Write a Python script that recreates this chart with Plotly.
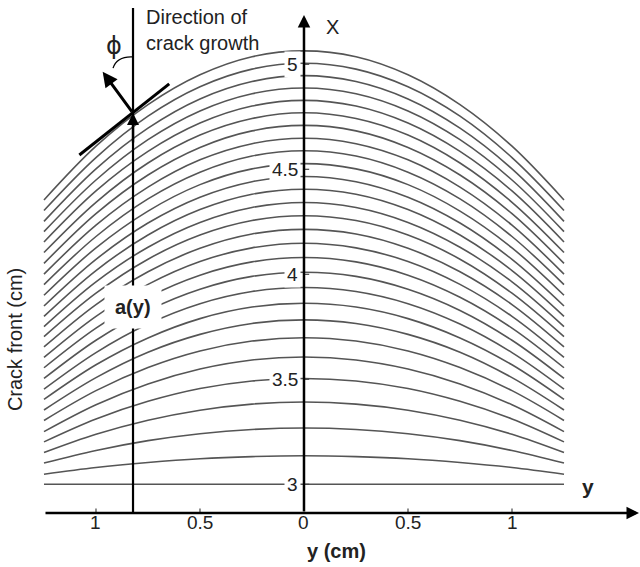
import plotly.graph_objects as go

# ---------------- data ----------------
# crack-front position X (cm) of each front, at |y| = 0, 0.25, 0.5, 0.75, 1.0, 1.25 cm
Y_POS = [0.0, 0.25, 0.5, 0.75, 1.0, 1.25]
front_y000 = [3.000, 3.136, 3.268, 3.392, 3.504, 3.606, 3.698, 3.783, 3.862, 3.937, 4.010, 4.080, 4.148, 4.214,
              4.279, 4.342, 4.405, 4.466, 4.527, 4.588, 4.648, 4.709, 4.769, 4.828, 4.887, 4.946, 5.005, 5.064]
front_y025 = [3.000, 3.132, 3.261, 3.382, 3.492, 3.592, 3.682, 3.766, 3.844, 3.918, 3.990, 4.059, 4.126, 4.192,
              4.256, 4.318, 4.381, 4.441, 4.502, 4.563, 4.622, 4.683, 4.742, 4.801, 4.860, 4.918, 4.977, 5.036]
front_y050 = [3.000, 3.122, 3.241, 3.353, 3.456, 3.549, 3.635, 3.714, 3.789, 3.860, 3.929, 3.996, 4.061, 4.124,
              4.187, 4.247, 4.308, 4.367, 4.427, 4.486, 4.545, 4.604, 4.663, 4.720, 4.778, 4.835, 4.893, 4.950]
front_y075 = [3.000, 3.104, 3.208, 3.305, 3.395, 3.478, 3.556, 3.629, 3.697, 3.763, 3.828, 3.891, 3.952, 4.012,
              4.072, 4.129, 4.187, 4.244, 4.301, 4.359, 4.415, 4.473, 4.530, 4.585, 4.641, 4.696, 4.753, 4.808]
front_y100 = [3.000, 3.080, 3.161, 3.238, 3.311, 3.379, 3.446, 3.508, 3.569, 3.627, 3.686, 3.744, 3.800, 3.856,
              3.910, 3.964, 4.018, 4.071, 4.126, 4.180, 4.234, 4.289, 4.343, 4.397, 4.449, 4.502, 4.556, 4.610]
front_y125 = [3.000, 3.048, 3.101, 3.151, 3.202, 3.251, 3.304, 3.354, 3.404, 3.453, 3.504, 3.555, 3.604, 3.654,
              3.703, 3.751, 3.800, 3.849, 3.900, 3.951, 4.001, 4.052, 4.104, 4.154, 4.203, 4.252, 4.304, 4.354]

X_TICK_VALS = [-1.0, -0.5, 0.0, 0.5, 1.0]
X_TICK_TEXT = ["1", "0.5", "0", "0.5", "1"]
Y_TICK_VALS = [3.0, 3.5, 4.0, 4.5, 5.0]
Y_TICK_TEXT = ["3", "3.5", "4", "4.5", "5"]

# ---------------- figure ----------------
FONT = "Liberation Sans, Arial, sans-serif"
TXT = "#222222"
CURVE = "#555555"

columns = [front_y000, front_y025, front_y050, front_y075, front_y100, front_y125]
fig = go.Figure()
for i in range(len(front_y000)):
    vals = [col[i] for col in columns]
    xs = [-p for p in Y_POS[::-1]] + Y_POS[1:]
    ys = vals[::-1] + vals[1:]
    fig.add_trace(go.Scatter(x=xs, y=ys, mode="lines",
                             line=dict(color=CURVE, width=1.6, shape="spline", smoothing=1.0),
                             hoverinfo="skip", showlegend=False))

XR = [-1.4615, 1.6154]
YR = [2.6062, 5.3062]
AX_Y = 2.8633      # level of the horizontal axis
LEFT_END = -1.25

shapes = []
annotations = []

# x-axis ticks + labels
for v, t in zip(X_TICK_VALS, X_TICK_TEXT):
    if v != 0:
        shapes.append(dict(type="line", xref="x", yref="y", x0=v, x1=v, y0=AX_Y, y1=AX_Y + 0.022,
                           line=dict(color="#444", width=1.2)))
    annotations.append(dict(x=v, y=2.816, xref="x", yref="y", text=t, showarrow=False,
                            font=dict(family=FONT, size=19, color=TXT)))

# y-axis ticks + labels (white boxes interrupt the fronts)
for v, t in zip(Y_TICK_VALS, Y_TICK_TEXT):
    shapes.append(dict(type="line", xref="x", yref="y", x0=0, x1=0.025, y0=v, y1=v,
                       line=dict(color="#444", width=1.2)))
    annotations.append(dict(x=0, y=v, xref="x", yref="y", text=t, showarrow=False,
                            xanchor="right", xshift=-3, bgcolor="white", borderpad=2,
                            font=dict(family=FONT, size=19, color=TXT)))

# axes with arrows
annotations.append(dict(x=1.6106, y=AX_Y, ax=LEFT_END, ay=AX_Y, xref="x", yref="y", axref="x", ayref="y",
                        text="", showarrow=True, arrowhead=2, arrowsize=1, arrowwidth=2.5,
                        arrowcolor="black", standoff=0, startstandoff=0))
annotations.append(dict(x=0, y=5.2348, ax=0, ay=AX_Y, xref="x", yref="y", axref="x", ayref="y",
                        text="", showarrow=True, arrowhead=2, arrowsize=1, arrowwidth=2.5,
                        arrowcolor="black", standoff=0, startstandoff=0))

# schematic: a(y) line, tangent, normal, angle arc
XA = -0.822
shapes.append(dict(type="line", xref="x", yref="y", x0=XA, x1=XA, y0=AX_Y, y1=5.2676,
                   line=dict(color="black", width=2.2)))
annotations.append(dict(x=XA, y=4.768, ax=XA, ay=4.62, xref="x", yref="y", axref="x", ayref="y",
                        text="", showarrow=True, arrowhead=2, arrowsize=1, arrowwidth=2.4,
                        arrowcolor="black", standoff=0))
shapes.append(dict(type="line", xref="x", yref="y", x0=-1.080, y0=4.568, x1=-0.648, y1=4.907,
                   line=dict(color="black", width=3)))
annotations.append(dict(x=-0.968, y=4.965, ax=XA, ay=4.768, xref="x", yref="y", axref="x", ayref="y",
                        text="", showarrow=True, arrowhead=2, arrowsize=1, arrowwidth=3,
                        arrowcolor="black", standoff=0))
shapes.append(dict(type="path", xref="x", yref="y",
                   path="M -0.820,5.035 Q -0.899,5.040 -0.918,4.982",
                   line=dict(color="black", width=1.3)))

# texts
annotations += [
    dict(x=-0.913, y=5.088, xref="x", yref="y", text="ϕ", showarrow=False,
         font=dict(family="DejaVu Sans", size=24, color=TXT)),
    dict(x=-0.769, y=5.164, xref="x", yref="y", text="Direction of<br>crack growth", showarrow=False,
         xanchor="left", align="left", font=dict(family=FONT, size=20, color=TXT)),
    dict(x=0.135, y=5.178, xref="x", yref="y", text="X", showarrow=False,
         font=dict(family=FONT, size=20, color=TXT)),
    dict(x=XA, y=3.845, xref="x", yref="y", text="<b>a(y)</b>", showarrow=False,
         bgcolor="white", borderpad=10, font=dict(family=FONT, size=20, color=TXT)),
    dict(x=-1.389, y=3.687, xref="x", yref="y", text="Crack front (cm)", showarrow=False,
         textangle=-90, font=dict(family=FONT, size=20, color=TXT)),
    dict(x=0.154, y=2.683, xref="x", yref="y", text="<b>y (cm)</b>", showarrow=False,
         font=dict(family=FONT, size=20, color=TXT)),
    dict(x=1.365, y=2.988, xref="x", yref="y", text="<b>y</b>", showarrow=False,
         font=dict(family=FONT, size=21, color=TXT)),
]

fig.update_layout(
    width=640, height=567,
    margin=dict(l=0, r=0, t=0, b=0),
    paper_bgcolor="white", plot_bgcolor="white",
    xaxis=dict(range=XR, visible=False, fixedrange=True),
    yaxis=dict(range=YR, visible=False, fixedrange=True),
    shapes=[dict(s, layer="above") for s in shapes],
    annotations=annotations,
    showlegend=False,
)

fig.write_html("out.html", config={"displayModeBar": False},
               post_script="document.body.style.margin='0';document.body.style.overflow='hidden';")
